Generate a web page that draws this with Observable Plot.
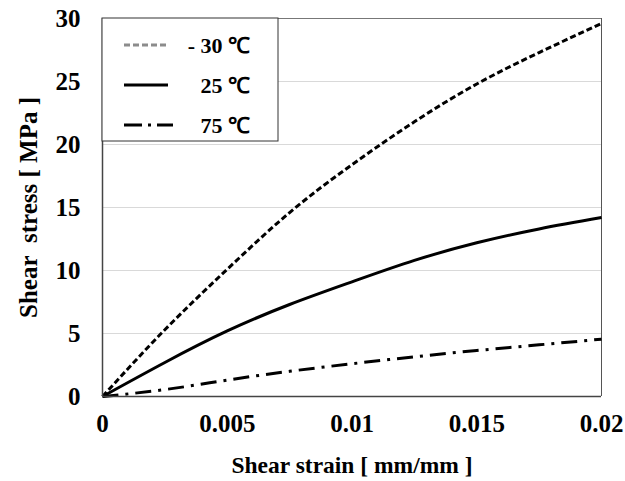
<!DOCTYPE html>
<html>
<head>
<meta charset="utf-8">
<script src="https://cdn.jsdelivr.net/npm/d3@7"></script>
<script src="https://cdn.jsdelivr.net/npm/@observablehq/plot@0.6"></script>
<style>
  html, body { margin: 0; padding: 0; background: #fff; }
  #chart { width: 625px; height: 481px; }
</style>
</head>
<body>
<div id="chart"></div>
<script>
const strain = [0, 0.0025, 0.005, 0.0075, 0.01, 0.0125, 0.015, 0.0175, 0.02];
const stressM30 = [0, 5.3, 10.1, 14.6, 18.4, 21.8, 24.8, 27.3, 29.6];
const stress25 = [0, 2.7, 5.2, 7.3, 9.1, 10.8, 12.2, 13.3, 14.2];
const stress75 = [0, 0.55, 1.3, 2.0, 2.6, 3.15, 3.65, 4.1, 4.55];
const seriesNames = ["- 30 \u2103", "25 \u2103", "75 \u2103"];
const xTicks = [0, 0.005, 0.01, 0.015, 0.02];
const yTicks = [0, 5, 10, 15, 20, 25, 30];

const styles = [
  {stroke: "#000", dash: "6,3"},
  {stroke: "#000", dash: null},
  {stroke: "#000", dash: "16,7,3,7"}
];
const legendStyles = [
  {stroke: "#8c8c8c", dash: "6,3"},
  {stroke: "#000", dash: null},
  {stroke: "#000", dash: "18,6,3,6"}
];

const toRows = (ys) => strain.map((x, i) => ({x, y: ys[i]}));
const sets = [toRows(stressM30), toRows(stress25), toRows(stress75)];

const font = "'Liberation Serif', 'Times New Roman', serif";

const plot = Plot.plot({
  width: 625,
  height: 481,
  marginLeft: 102,
  marginRight: 24,
  marginTop: 18,
  marginBottom: 85,
  style: {fontFamily: font, fontWeight: "bold", color: "#000", background: "#fff"},
  x: {domain: [0, 0.02]},
  y: {domain: [0, 30]},
  marks: [
    Plot.gridY(yTicks.filter(d => d > 0 && d < 30), {stroke: "#d9d9d9", strokeOpacity: 1, strokeWidth: 1}),
    Plot.ruleY([30], {stroke: "#777", strokeWidth: 1}),
    Plot.ruleX([0.02], {stroke: "#555", strokeWidth: 1}),
    ...sets.map((d, i) => Plot.line(d, {x: "x", y: "y", curve: "natural", stroke: styles[i].stroke,
      strokeWidth: 3, strokeDasharray: styles[i].dash, strokeLinecap: "butt"})),
    Plot.ruleY([0], {stroke: "#444", strokeWidth: 1.5}),
    Plot.ruleX([0], {stroke: "#444", strokeWidth: 1.5}),
    Plot.axisX(xTicks, {tickFormat: d => String(d), tickSize: 0, tickPadding: 18, fontSize: 25, label: null}),
    Plot.axisY(yTicks, {tickFormat: d => String(d), tickSize: 0, tickPadding: 22, fontSize: 25, label: null}),
    Plot.axisX({ticks: [], tickSize: 0, fontSize: 23.5, dx: -9, label: "Shear strain [ mm/mm ]", labelAnchor: "center", labelArrow: "none", labelOffset: 76}),
    Plot.axisY({ticks: [], tickSize: 0, fontSize: 25, label: "Shear\u00a0 stress [ MPa ]", labelAnchor: "center", labelArrow: "none", labelOffset: 83})
  ]
});

document.getElementById("chart").appendChild(plot);

// legend box in the upper-left corner of the plot frame
const svg = d3.select(plot);
const g = svg.append("g");
g.append("rect").attr("x", 102).attr("y", 18).attr("width", 176).attr("height", 123)
  .attr("fill", "#fff").attr("stroke", "#333").attr("stroke-width", 1);
const rowY = [45, 85, 125];
seriesNames.forEach((name, i) => {
  const ls = legendStyles[i];
  g.append("line").attr("x1", 124).attr("x2", i === 2 ? 173 : 168).attr("y1", rowY[i]).attr("y2", rowY[i])
    .attr("stroke", ls.stroke).attr("stroke-width", 3).attr("stroke-dasharray", ls.dash);
  g.append("text").attr("x", 250).attr("y", rowY[i]).attr("dy", "0.35em").attr("text-anchor", "end")
    .attr("font-family", font).attr("font-size", "22px").attr("font-weight", "bold").attr("fill", "#000")
    .text(name);
});
</script>
</body>
</html>
